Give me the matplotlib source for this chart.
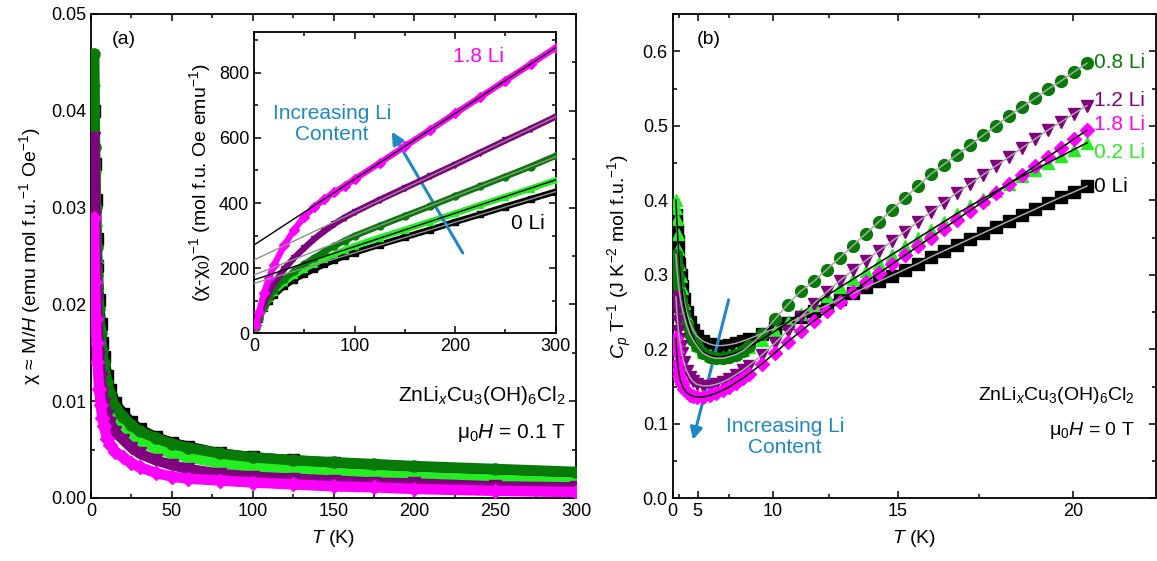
import numpy as np
import matplotlib
matplotlib.use("Agg")
import matplotlib.pyplot as plt
from matplotlib.ticker import MultipleLocator, FixedLocator

plt.rcParams['font.family'] = ['Liberation Sans', 'DejaVu Sans']
plt.rcParams['mathtext.fontset'] = 'custom'
plt.rcParams['mathtext.rm'] = 'Liberation Sans'
plt.rcParams['mathtext.it'] = 'Liberation Sans:italic'
plt.rcParams['mathtext.bf'] = 'Liberation Sans:bold'

# ---------------- colours / series ----------------
series_names = ['0 Li', '0.2 Li', '0.8 Li', '1.2 Li', '1.8 Li']
colors = ['#000000', '#22ee22', '#087a08', '#800080', '#ff00ff']
markers = ['s', '^', 'o', 'v', 'D']
blue = '#1f88c4'

# ---------------- panel (a) main: chi(T) ----------------
T_a = [2, 2.5, 3, 3.5, 4, 5, 6, 7, 8, 10, 12, 15, 20, 25, 30, 40, 50, 60, 80,
       100, 125, 150, 175, 200, 250, 300]
chi_0Li = [0.0400, 0.0345, 0.0308, 0.0268, 0.0240, 0.0205, 0.0180, 0.0160, 0.0146,
           0.0126, 0.0112, 0.0098, 0.0087, 0.0078, 0.0071, 0.0063, 0.0057, 0.0053,
           0.0046, 0.0042, 0.0039, 0.0036, 0.0033, 0.0031, 0.0028, 0.0025]
chi_02Li = [0.0432, 0.0342, 0.0287, 0.0249, 0.0220, 0.0182, 0.0158, 0.0140, 0.0126,
            0.0106, 0.0093, 0.0082, 0.0074, 0.0065, 0.0059, 0.0051, 0.0046, 0.0042,
            0.0036, 0.0032, 0.0029, 0.0026, 0.0024, 0.0022, 0.0019, 0.0016]
chi_08Li = [0.0459, 0.0363, 0.0301, 0.0259, 0.0230, 0.0195, 0.0170, 0.0152, 0.0139,
            0.0120, 0.0107, 0.0094, 0.0084, 0.0075, 0.0069, 0.0062, 0.0056, 0.0052,
            0.0046, 0.0042, 0.0039, 0.0037, 0.0035, 0.0033, 0.0030, 0.0027]
chi_12Li = [0.0372, 0.0290, 0.0237, 0.0205, 0.0180, 0.0146, 0.0124, 0.0108, 0.0097,
            0.0085, 0.0077, 0.0068, 0.0060, 0.0052, 0.0046, 0.0039, 0.0034, 0.0030,
            0.0025, 0.0022, 0.0020, 0.0018, 0.0016, 0.0015, 0.0012, 0.0011]
chi_18Li = [0.0289, 0.0223, 0.0185, 0.0160, 0.0140, 0.0113, 0.0096, 0.0083, 0.0074,
            0.0061, 0.0055, 0.0048, 0.0042, 0.0036, 0.0032, 0.0026, 0.0022, 0.0020,
            0.0018, 0.0016, 0.0014, 0.0012, 0.0011, 0.00093, 0.00074, 0.0006]
chi_all = [chi_0Li, chi_02Li, chi_08Li, chi_12Li, chi_18Li]

# ---------------- panel (a) inset: 1/(chi-chi0) ----------------
T_in = [2, 5, 10, 15, 20, 30, 40, 50, 60, 70, 80, 90, 100, 125, 150, 175, 200,
        225, 250, 275, 300]
inv_0Li = [20, 45, 78, 100, 118, 145, 165, 182, 197, 212, 225, 237, 248, 272, 295,
           318, 342, 365, 389, 412, 435]
inv_02Li = [20, 47, 82, 107, 127, 156, 178, 197, 214, 229, 243, 256, 268, 294, 318,
            343, 368, 394, 419, 444, 470]
inv_08Li = [20, 48, 85, 112, 134, 166, 190, 212, 232, 251, 268, 284, 299, 330, 360,
            390, 421, 451, 481, 512, 545]
inv_12Li = [22, 52, 95, 128, 155, 197, 232, 262, 290, 314, 336, 355, 372, 410, 446,
            482, 518, 555, 592, 628, 665]
inv_18Li = [25, 65, 125, 170, 210, 270, 318, 358, 388, 412, 433, 452, 473, 523, 574,
            624, 675, 725, 776, 826, 877]
inv_all = [inv_0Li, inv_02Li, inv_08Li, inv_12Li, inv_18Li]
fit_T = [0, 300]
fit_0Li = [153, 435]
fit_02Li = [164, 471]
fit_08Li = [179, 542]
fit_12Li = [225, 665]
fit_18Li = [271, 877]
fit_all = [fit_0Li, fit_02Li, fit_08Li, fit_12Li, fit_18Li]
fit_colors = ['#909090', '#000000', '#909090', '#909090', '#000000']

# ---------------- panel (b): Cp/T vs T (T^2 axis) ----------------
T_b = [1.8, 1.9, 2.0, 2.2, 2.4, 2.6, 2.8, 3.0, 3.32, 3.74, 4.12, 4.50, 4.90, 5.48,
       6.08, 6.56, 7.07, 7.48, 7.94, 8.37, 8.72, 9.43, 10.10, 10.72, 11.31, 11.87,
       12.41, 12.92, 13.42, 13.89, 14.35, 14.80, 15.23, 15.65, 16.06, 16.46, 16.85,
       17.23, 17.61, 17.97, 18.33, 18.68, 19.03, 19.36, 19.70, 20.02, 20.35]
cp_0Li = [0.380, 0.370, 0.360, 0.345, 0.330, 0.315, 0.300, 0.285, 0.268, 0.250,
          0.237, 0.226, 0.218, 0.211, 0.207, 0.205, 0.205, 0.206, 0.208, 0.211,
          0.214, 0.221, 0.228, 0.235, 0.243, 0.251, 0.259, 0.267, 0.275, 0.283,
          0.291, 0.299, 0.307, 0.315, 0.324, 0.332, 0.340, 0.348, 0.356, 0.364,
          0.372, 0.380, 0.388, 0.396, 0.404, 0.411, 0.419]
cp_02Li = [0.400, 0.390, 0.375, 0.355, 0.335, 0.315, 0.298, 0.282, 0.262, 0.243,
           0.228, 0.216, 0.206, 0.197, 0.192, 0.190, 0.190, 0.192, 0.195, 0.199,
           0.203, 0.213, 0.224, 0.236, 0.248, 0.260, 0.272, 0.283, 0.294, 0.305,
           0.316, 0.327, 0.338, 0.349, 0.360, 0.371, 0.382, 0.392, 0.402, 0.412,
           0.422, 0.432, 0.441, 0.450, 0.459, 0.468, 0.477]
cp_08Li = [0.327, 0.319, 0.311, 0.299, 0.287, 0.276, 0.266, 0.257, 0.246, 0.232,
           0.221, 0.213, 0.205, 0.195, 0.190, 0.188, 0.188, 0.190, 0.193, 0.198,
           0.204, 0.220, 0.240, 0.260, 0.278, 0.291, 0.307, 0.323, 0.339, 0.355,
           0.371, 0.387, 0.403, 0.419, 0.435, 0.448, 0.461, 0.474, 0.487, 0.500,
           0.513, 0.525, 0.537, 0.549, 0.560, 0.572, 0.584]
cp_12Li = [0.270, 0.262, 0.252, 0.238, 0.225, 0.214, 0.204, 0.195, 0.183, 0.171,
           0.163, 0.157, 0.153, 0.151, 0.151, 0.153, 0.156, 0.160, 0.166, 0.172,
           0.178, 0.192, 0.208, 0.225, 0.243, 0.261, 0.277, 0.292, 0.306, 0.319,
           0.332, 0.345, 0.358, 0.371, 0.384, 0.397, 0.410, 0.422, 0.434, 0.446,
           0.458, 0.470, 0.482, 0.494, 0.505, 0.516, 0.527]
cp_18Li = [0.215, 0.205, 0.196, 0.182, 0.172, 0.164, 0.158, 0.153, 0.147, 0.142,
           0.139, 0.137, 0.136, 0.136, 0.138, 0.141, 0.145, 0.149, 0.155, 0.161,
           0.167, 0.180, 0.195, 0.210, 0.224, 0.238, 0.251, 0.264, 0.277, 0.290,
           0.302, 0.314, 0.326, 0.338, 0.350, 0.362, 0.374, 0.386, 0.398, 0.410,
           0.422, 0.434, 0.446, 0.458, 0.470, 0.482, 0.494]
cp_all = [cp_0Li, cp_02Li, cp_08Li, cp_12Li, cp_18Li]
cpfit_colors = ['#a8a8a8', '#000000', '#a8a8a8', '#a8a8a8', '#000000']

FS = 13

def style_axes(ax, fs=FS):
    for sp in ax.spines.values():
        sp.set_linewidth(1.3)
    ax.tick_params(which='both', direction='in', top=True, right=True,
                   width=1.1, labelsize=fs)
    ax.tick_params(which='major', length=5)
    ax.tick_params(which='minor', length=3)

W, H = 1157, 561
fig = plt.figure(figsize=(W / 100, H / 100), dpi=100)

# ======== panel (a) ========
axA = fig.add_axes([91 / W, (H - 498) / H, 485 / W, 484 / H])
plot_order = [0, 1, 2, 3, 4]
for i in plot_order:
    axA.plot(T_a, chi_all[i], color=colors[i], lw=7.5, solid_capstyle='round',
             zorder=2 + i)
    axA.plot(T_a, chi_all[i], ls='none', marker=markers[i], ms=8 if markers[i] != 'D' else 7,
             color=colors[i], zorder=2 + i)
axA.set_xlim(0, 300)
axA.set_ylim(0, 0.05)
axA.xaxis.set_major_locator(MultipleLocator(50))
axA.xaxis.set_minor_locator(MultipleLocator(25))
axA.yaxis.set_major_locator(MultipleLocator(0.01))
axA.yaxis.set_minor_locator(MultipleLocator(0.005))
axA.yaxis.set_major_formatter(matplotlib.ticker.FormatStrFormatter('%.2f'))
style_axes(axA)
axA.set_xlabel('$T$ (K)', fontsize=14, labelpad=6)
axA.set_ylabel('χ ≈ M/$H$ (emu mol f.u.$^{-1}$ Oe$^{-1}$)', fontsize=14, labelpad=6)
axA.text(0.068, 0.948, '(a)', transform=axA.transAxes, ha='center', va='center', fontsize=FS + 1)
axA.text(0.979, 0.211, 'ZnLi$_x$Cu$_3$(OH)$_6$Cl$_2$', transform=axA.transAxes,
         ha='right', va='center', fontsize=15)
axA.text(0.979, 0.134, 'μ$_0$$H$ = 0.1 T', transform=axA.transAxes,
         ha='right', va='center', fontsize=15)

# ======== inset ========
axI = fig.add_axes([254 / W, (H - 333.3) / H, 301.7 / W, 301.3 / H])
axI.set_zorder(10)
for i in plot_order:
    axI.plot(T_in, inv_all[i], color=colors[i], lw=4.5, solid_capstyle='round', zorder=2 + i)
    axI.plot(T_in, inv_all[i], ls='none', marker=markers[i], ms=5, color=colors[i], zorder=2 + i)
for i in plot_order:
    axI.plot(fit_T, fit_all[i], color=fit_colors[i], lw=1.0, zorder=8)
axI.set_xlim(0, 300)
axI.set_ylim(0, 925)
axI.xaxis.set_major_locator(MultipleLocator(100))
axI.xaxis.set_minor_locator(MultipleLocator(50))
axI.yaxis.set_major_locator(MultipleLocator(200))
axI.yaxis.set_minor_locator(MultipleLocator(100))
style_axes(axI)
axI.set_ylabel('(χ-χ$_0$)$^{-1}$ (mol f.u. Oe emu$^{-1}$)', fontsize=14, labelpad=4)
axI.text(0.7425, 0.920, '1.8 Li', transform=axI.transAxes, ha='center', va='center',
         fontsize=15, color=colors[4])
axI.text(0.908, 0.363, '0 Li', transform=axI.transAxes, ha='center', va='center',
         fontsize=15, color='black')
axI.text(0.2585, 0.695, 'Increasing Li\nContent', transform=axI.transAxes, ha='center',
         va='center', fontsize=15, color=blue, linespacing=1.1)
axI.annotate('', xy=(0.4566, 0.669), xytext=(0.692, 0.2665), xycoords='axes fraction',
             textcoords='axes fraction',
             arrowprops=dict(arrowstyle='-|>', color=blue, lw=2.2, mutation_scale=18,
                             shrinkA=0, shrinkB=0))

# ======== panel (b) ========
axB = fig.add_axes([672.7 / W, (H - 498.3) / H, 483.3 / W, 484.3 / H])
fwd = lambda x: np.sign(x) * np.asarray(x, dtype=float) ** 2
inv = lambda y: np.sign(y) * np.sqrt(np.abs(y))
axB.set_xscale('function', functions=(fwd, inv))
for i in plot_order:
    axB.plot(T_b, cp_all[i], ls='none', marker=markers[i],
             ms=8.5 if markers[i] != 'D' else 7.5, color=colors[i], zorder=2 + i)
for i in plot_order:
    axB.plot(T_b, cp_all[i], color=cpfit_colors[i], lw=1.1, zorder=9)
axB.set_xlim(0, 21.98)
axB.set_ylim(0, 0.65)
axB.xaxis.set_major_locator(FixedLocator([0, 5, 10, 15, 20]))
axB.xaxis.set_minor_locator(FixedLocator([2.5, 7.5, 12.5, 17.5]))
axB.xaxis.set_major_formatter(matplotlib.ticker.FormatStrFormatter('%d'))
axB.yaxis.set_major_locator(MultipleLocator(0.1))
axB.yaxis.set_minor_locator(MultipleLocator(0.05))
axB.yaxis.set_major_formatter(matplotlib.ticker.FormatStrFormatter('%.1f'))
style_axes(axB)
axB.set_xlabel('$T$ (K)', fontsize=14, labelpad=6)
axB.set_ylabel('$C_p$ T$^{-1}$ (J K$^{-2}$ mol f.u.$^{-1}$)', fontsize=14, labelpad=6)
axB.text(0.075, 0.947, '(b)', transform=axB.transAxes, ha='center', va='center', fontsize=FS + 1)
lab_y = [0.643, 0.715, 0.899, 0.822, 0.771]
for i in range(5):
    axB.text(0.872, lab_y[i], series_names[i], transform=axB.transAxes, ha='left',
             va='center', fontsize=15, color=colors[i])
axB.text(0.9557, 0.213, 'ZnLi$_x$Cu$_3$(OH)$_6$Cl$_2$', transform=axB.transAxes,
         ha='right', va='center', fontsize=14)
axB.text(0.9557, 0.141, 'μ$_0$$H$ = 0 T', transform=axB.transAxes,
         ha='right', va='center', fontsize=14)
axB.text(0.232, 0.127, 'Increasing Li\nContent', transform=axB.transAxes, ha='center',
         va='center', fontsize=15, color=blue, linespacing=1.1)
axB.annotate('', xy=(0.042, 0.1205), xytext=(0.1157, 0.4095), xycoords='axes fraction',
             textcoords='axes fraction',
             arrowprops=dict(arrowstyle='-|>', color=blue, lw=2.2, mutation_scale=18,
                             shrinkA=0, shrinkB=0))

fig.savefig('out.png', dpi=100)
